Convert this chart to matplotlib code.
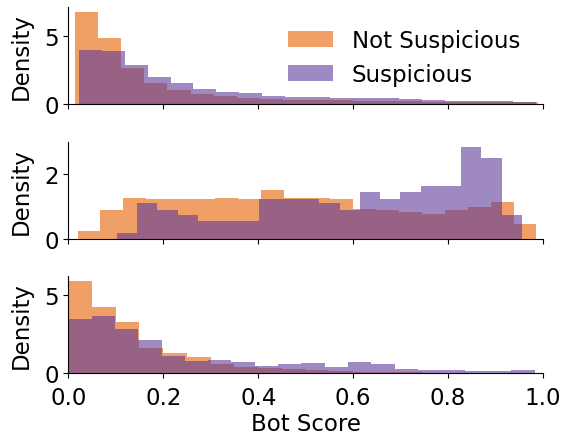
import numpy as np
import matplotlib
matplotlib.use("Agg")
import matplotlib.pyplot as plt

# bin ranges (min, max) and densities, 20 bins each
top_ns_range = (0.014, 0.989)
top_ns = [6.76, 4.83, 2.60, 1.56, 1.04, 0.74, 0.59, 0.45, 0.37, 0.30,
          0.30, 0.27, 0.25, 0.22, 0.20, 0.17, 0.15, 0.15, 0.12, 0.12]
top_s_range = (0.023, 0.985)
top_s = [3.94, 3.86, 2.82, 2.00, 1.56, 1.11, 0.89, 0.79, 0.59, 0.52,
         0.52, 0.45, 0.45, 0.45, 0.37, 0.30, 0.25, 0.25, 0.22, 0.12]

mid_ns_range = (0.0196, 0.986)
mid_ns = [0.25, 0.90, 1.27, 1.24, 1.24, 1.24, 1.27, 1.24, 1.49, 1.27,
          1.27, 1.21, 0.92, 0.90, 0.84, 0.78, 0.90, 0.99, 1.12, 0.47]
mid_s_range = (0.1025, 0.955)
mid_s = [0.19, 1.09, 0.90, 0.72, 0.56, 0.56, 0.56, 1.24, 1.24, 1.24,
         1.09, 0.90, 1.43, 1.24, 1.43, 1.62, 1.62, 2.83, 2.49, 0.72]

bot_ns_range = (0.0, 1.0)
bot_ns = [5.87, 4.24, 3.27, 1.58, 1.26, 1.06, 0.61, 0.41, 0.35, 0.28,
          0.22, 0.15, 0.09, 0.06, 0.06, 0.04, 0.02, 0.02, 0.01, 0.01]
bot_s_range = (0.0, 0.982)
bot_s = [3.46, 3.64, 2.81, 2.10, 1.13, 0.80, 0.87, 0.74, 0.48, 0.61,
         0.67, 0.41, 0.74, 0.61, 0.28, 0.22, 0.22, 0.15, 0.15, 0.22]

labels = ["Not Suspicious", "Suspicious"]
colors = ["#E66100", "#5D3A9B"]

fs = 16.5
plt.rcParams['font.size'] = fs

fig = plt.figure(figsize=(5.64, 4.35), dpi=100)
left, width, height = 0.121, 0.842, 0.223
bottoms = [0.7586, 0.4483, 0.1395]
axes = [fig.add_axes([left, b, width, height]) for b in bottoms]

panels = [(top_ns_range, top_ns, top_s_range, top_s),
          (mid_ns_range, mid_ns, mid_s_range, mid_s),
          (bot_ns_range, bot_ns, bot_s_range, bot_s)]

for ax, (r1, h1, r2, h2) in zip(axes, panels):
    for rng, h, c, lab in [(r1, h1, colors[0], labels[0]),
                           (r2, h2, colors[1], labels[1])]:
        edges = np.linspace(rng[0], rng[1], len(h) + 1)
        ax.hist(edges[:-1], bins=edges, weights=h, color=c, alpha=0.6,
                label=lab)
    ax.set_xlim(0, 1)
    ax.set_ylabel("Density", fontsize=fs)
    ax.spines['top'].set_visible(False)
    ax.spines['right'].set_visible(False)
    ax.tick_params(labelsize=fs)
    ax.tick_params(axis='x', pad=5.5)
    ax.yaxis.set_label_coords(-0.074, 0.5)

axes[0].set_yticks([0, 5])
axes[1].set_yticks([0, 2])
axes[2].set_yticks([0, 5])
for ax in axes[:2]:
    ax.set_xticklabels([])
axes[2].set_xlabel("Bot Score", fontsize=fs, labelpad=2)
axes[0].legend(loc="upper right", frameon=False, fontsize=fs,
               bbox_to_anchor=(0.995, 0.99))

fig.savefig("out.png", dpi=100)
